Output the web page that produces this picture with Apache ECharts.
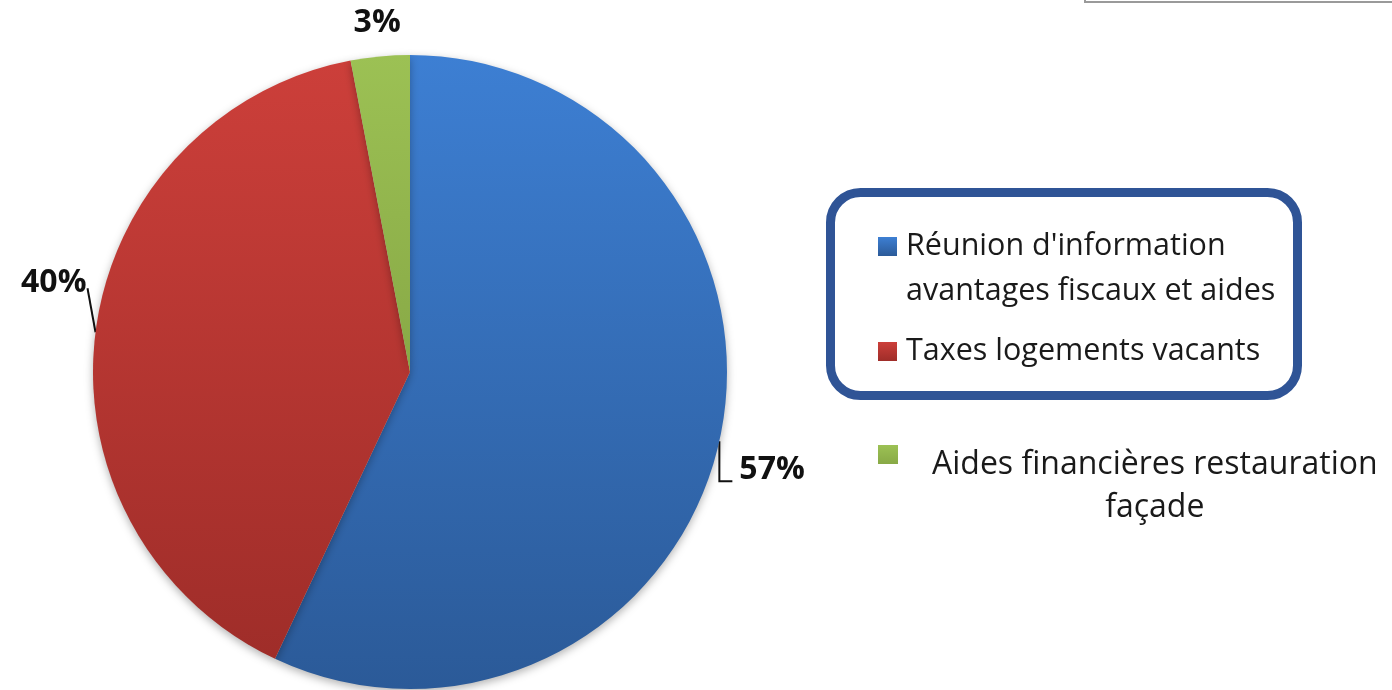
<!DOCTYPE html>
<html>
<head>
<meta charset="utf-8">
<script src="https://cdn.jsdelivr.net/npm/echarts@6/dist/echarts.min.js"></script>
<style>
html,body{margin:0;padding:0;background:#fff;}
#chart{width:1392px;height:690px;}
</style>
</head>
<body>
<div id="chart"></div>
<script>
const categories = [
  "Réunion d'information avantages fiscaux et aides",
  "Taxes logements vacants",
  "Aides financières restauration façade"
];
const values = [57, 40, 3];
const legendLines = [
  ["Réunion d'information", "avantages fiscaux et aides"],
  ["Taxes logements vacants"],
  ["Aides financières restauration", "façade"]
];
const topColors = ["#3d7fd3", "#cc3f3a", "#9cc154"];
const bottomColors = ["#2b5a98", "#9f2d29", "#88a946"];

const FONT = "Open Sans";

function grad(i){
  return new echarts.graphic.LinearGradient(0, 0, 0, 1, [
    { offset: 0, color: topColors[i] },
    { offset: 1, color: bottomColors[i] }
  ]);
}

const pieData = categories.map((c, i) => ({
  name: c,
  value: values[i],
  itemStyle: { color: grad(i) },
  labelLine: i === 2 ? { lineStyle: { opacity: 0 } } : undefined
}));

function legendText(name){
  const i = categories.indexOf(name);
  const lines = legendLines[i];
  if(i === 2) return "\n{a|" + lines[0] + "}\n{b|" + lines[1] + "}";
  // blank first line keeps the icon level with the first text line
  return lines.length > 1 ? "\n" + lines.join("\n") : lines[0];
}

const chart = echarts.init(document.getElementById("chart"));

chart.setOption({
  backgroundColor: "#fff",
  animation: false,
  graphic: [
    { type: "rect", shape: { x: 830.5, y: 192.5, width: 467, height: 203, r: 30 },
      style: { fill: "none", stroke: "#2f5496", lineWidth: 9 } },
    { type: "rect", shape: { x: 1085, y: -10, width: 320, height: 12 },
      style: { fill: "none", stroke: "#9a9a9a", lineWidth: 2 } }
  ],
  legend: [
    {
      orient: "vertical", left: 878, top: 179, padding: 0,
      itemWidth: 19, itemHeight: 19, itemGap: 15, icon: "rect",
      selectedMode: false,
      data: [categories[0], categories[1]],
      formatter: legendText,
      textStyle: { fontFamily: FONT, fontSize: 30.5, color: "#1a1a1a", lineHeight: 45, padding: [0, 0, 0, 4] }
    },
    {
      orient: "vertical", left: 878, top: 380, padding: 0,
      itemWidth: 20, itemHeight: 19, icon: "rect",
      selectedMode: false,
      data: [categories[2]],
      formatter: legendText,
      textStyle: {
        fontFamily: FONT, fontSize: 32, color: "#1a1a1a", lineHeight: 43, padding: [20, 0, 0, 29],
        rich: {
          a: { fontFamily: FONT, fontSize: 32, color: "#1a1a1a", lineHeight: 43 },
          b: { fontFamily: FONT, fontSize: 32, color: "#1a1a1a", lineHeight: 43, align: "center" }
        }
      }
    }
  ],
  series: [{
    type: "pie",
    center: [410, 372],
    radius: 317,
    startAngle: 90,
    clockwise: true,
    avoidLabelOverlap: false,
    itemStyle: { shadowBlur: 8, shadowColor: "rgba(0,0,0,0.3)", shadowOffsetY: 3 },
    label: {
      show: true,
      position: "outside",
      formatter: p => p.value + "%",
      fontFamily: FONT,
      fontWeight: "bold",
      fontSize: 32,
      color: "#111"
    },
    labelLine: { show: true, length: 20, length2: 10, lineStyle: { color: "#111", width: 2 } },
    labelLayout: function(p){
      const a = p.labelLinePoints && p.labelLinePoints[0];
      if(!a) return {};
      if(p.dataIndex === 0){
        return {
          x: a[0] + 20, y: a[1] + 29, align: "left", verticalAlign: "middle",
          labelLinePoints: [[a[0], a[1]], [a[0], a[1] + 40], [a[0] + 13, a[1] + 40]]
        };
      }
      if(p.dataIndex === 1){
        return {
          x: a[0] - 9, y: a[1] - 49, align: "right", verticalAlign: "middle",
          labelLinePoints: [[a[0], a[1]], [a[0] - 4, a[1] - 22], [a[0] - 8, a[1] - 44]]
        };
      }
      return {
        x: a[0] - 3, y: a[1] - 34, align: "center", verticalAlign: "middle",
        labelLinePoints: [[a[0], a[1]], [a[0], a[1]], [a[0], a[1]]]
      };
    },
    data: pieData
  }]
});
</script>
</body>
</html>
